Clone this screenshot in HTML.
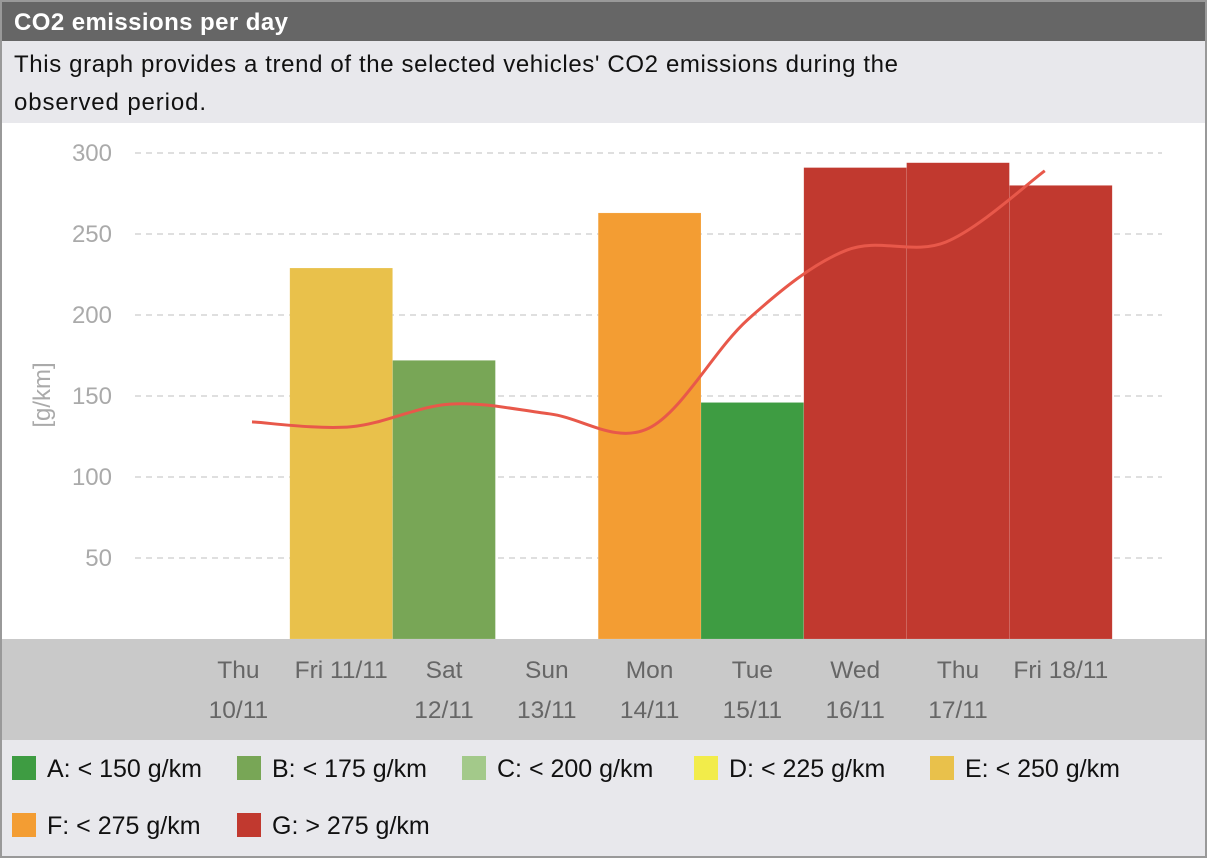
<!DOCTYPE html>
<html><head><meta charset="utf-8"><style>
body{margin:0;width:1207px;height:858px;overflow:hidden;background:#fff;font-family:"Liberation Sans","DejaVu Sans",sans-serif}
</style></head><body>
<svg width="1207" height="858" xmlns="http://www.w3.org/2000/svg">
<rect x="0" y="0" width="1207" height="858" fill="#fff"/>
<rect x="0" y="0" width="1207" height="41" fill="#666"/>
<text x="14" y="30" font-size="24" font-weight="bold" fill="#fff" textLength="274">CO2 emissions per day</text>
<rect x="0" y="41" width="1207" height="82" fill="#e8e8ec"/>
<text x="14" y="72" font-size="24" fill="#111" textLength="884">This graph provides a trend of the selected vehicles' CO2 emissions during the</text>
<text x="14" y="110" font-size="24" fill="#111" textLength="192">observed period.</text>
<g id="grid"></g>
<g id="bars"></g>
<path id="trend" fill="none" stroke="#e8584a" stroke-width="3"/>
<rect x="0" y="639" width="1207" height="101" fill="#c9c9c9"/>
<g id="xlabels"></g>
<rect x="0" y="740" width="1207" height="118" fill="#e8e8ec"/>
<g id="legend"></g>
<text transform="translate(50,395) rotate(-90)" text-anchor="middle" font-size="24" fill="#aaa">[g/km]</text>
<rect x="1" y="1" width="1205" height="856" fill="none" stroke="#999" stroke-width="2"/>
</svg>
<script>
const categories=[["Thu","10/11"],["Fri 11/11",""],["Sat","12/11"],["Sun","13/11"],["Mon","14/11"],["Tue","15/11"],["Wed","16/11"],["Thu","17/11"],["Fri 18/11",""]];
const barValues=[null,229,172,null,263,146,291,294,280];
const barColors=[null,"#e9c14b","#78a656",null,"#f39d33","#3e9c42","#c1392f","#c1392f","#c1392f"];
const trendValues=[134,131,145,139,130,197,240,245,289];
const yTicks=[50,100,150,200,250,300];
const legendLabels=["A: < 150 g/km","B: < 175 g/km","C: < 200 g/km","D: < 225 g/km","E: < 250 g/km","F: < 275 g/km","G: > 275 g/km"];
const legendColors=["#3e9c42","#78a656","#a3c98a","#f2ec4a","#e9c14b","#f39d33","#c1392f"];
const NS="http://www.w3.org/2000/svg";
const y=v=>639-v*1.62;
const slotL=i=>187+102.8*i;
const lineX=i=>252+99.1*i;
function mk(tag,attrs,parent,txt){const e=document.createElementNS(NS,tag);for(const k in attrs)e.setAttribute(k,attrs[k]);if(txt!=null)e.textContent=txt;document.getElementById(parent).appendChild(e);return e;}
yTicks.forEach(t=>{
  const l=mk("line",{x1:135,x2:1162,y1:y(t),y2:y(t),stroke:"#ccc","stroke-dasharray":"6,5","stroke-width":1.2},"grid");
  
  
  const tx=mk("text",{x:112,y:y(t)+8,"text-anchor":"end","font-size":24,fill:"#aaa"},"grid",t);
  
  
});
barValues.forEach((v,i)=>{
  if(v==null)return;
  const r=mk("rect",{x:slotL(i),y:y(v),width:102.8,height:639-y(v),fill:barColors[i],stroke:"rgba(255,255,255,0.25)","stroke-width":0.5},"bars");
  
  
});
categories.forEach((c,i)=>{
  const cx=slotL(i)+51.4;
  const a=mk("text",{x:cx,y:678,"text-anchor":"middle","font-size":24.5,fill:"#666"},"xlabels",c[0]);
  
  
  if(c[1]){const b=mk("text",{x:cx,y:718,"text-anchor":"middle","font-size":24.5,fill:"#666"},"xlabels",c[1]);
  
  }
});
const pts=trendValues.map((v,i)=>[lineX(i),y(v)]);
let d="M"+pts[0][0]+","+pts[0][1];
for(let i=0;i<pts.length-1;i++){
  const p0=pts[Math.max(0,i-1)],p1=pts[i],p2=pts[i+1],p3=pts[Math.min(pts.length-1,i+2)];
  const c1=[p1[0]+(p2[0]-p0[0])/6,p1[1]+(p2[1]-p0[1])/6];
  const c2=[p2[0]-(p3[0]-p1[0])/6,p2[1]-(p3[1]-p1[1])/6];
  d+=" C"+c1+" "+c2+" "+p2;
}
document.getElementById("trend").setAttribute("d",d);
const lx=[12,237,462,694,930,12,237], ly=[768,768,768,768,768,825,825];
legendLabels.forEach((t,i)=>{
  const s=mk("rect",{x:lx[i],y:ly[i]-12,width:24,height:24,fill:legendColors[i]},"legend");
  
  
  const tx=mk("text",{x:lx[i]+35,y:ly[i]+9,"font-size":25,fill:"#111"},"legend",t);
  
  
});
</script>
</body></html>
